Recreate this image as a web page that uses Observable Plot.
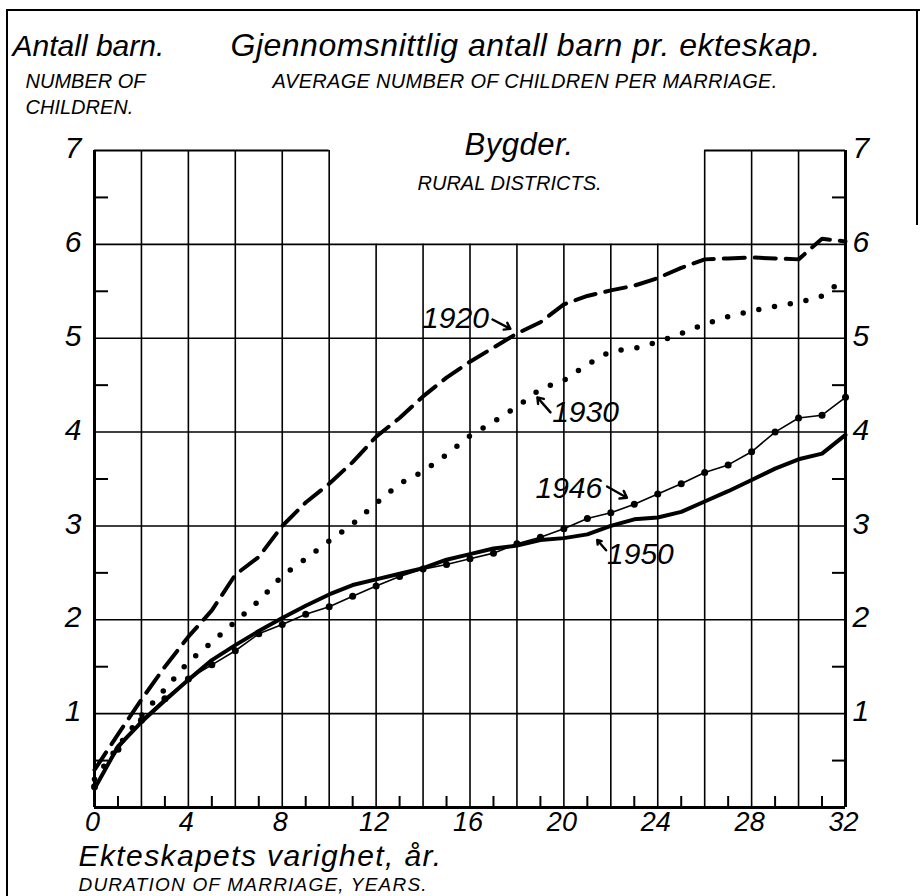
<!DOCTYPE html>
<html>
<head>
<meta charset="utf-8">
<script src="https://cdn.jsdelivr.net/npm/d3@7"></script>
<script src="https://cdn.jsdelivr.net/npm/@observablehq/plot@0.6"></script>
<style>
  html, body { margin: 0; padding: 0; background: #fff; }
  #wrap { position: relative; width: 924px; height: 896px; overflow: hidden; }
  .bl { position: absolute; left: 6px; top: 9px; width: 912px; height: 890px; border-left: 2.5px solid #000; border-top: 2.5px solid #000; }
  .br { position: absolute; left: 916px; top: 9px; width: 0; height: 216px; border-left: 2.5px solid #000; }
</style>
</head>
<body>
<div id="wrap"><div class="bl"></div><div class="br"></div></div>
<script>
// ---- data ----
const years = [0,1,2,3,4,5,6,7,8,9,10,11,12,13,14,15,16,17,18,19,20,21,22,23,24,25,26,27,28,29,30,31,32];
const v1920 = [0.40,0.78,1.15,1.50,1.82,2.10,2.48,2.67,3.00,3.25,3.45,3.68,3.95,4.15,4.38,4.58,4.75,4.90,5.05,5.17,5.36,5.45,5.51,5.56,5.64,5.75,5.84,5.85,5.86,5.85,5.84,6.06,6.03];
const v1930 = [0.30,0.65,0.98,1.26,1.55,1.76,1.98,2.20,2.47,2.65,2.84,3.02,3.24,3.45,3.58,3.76,3.96,4.11,4.27,4.46,4.55,4.72,4.86,4.89,4.96,5.05,5.15,5.23,5.29,5.34,5.38,5.45,5.64];
const v1946 = [0.22,0.62,0.93,1.16,1.37,1.52,1.67,1.85,1.95,2.06,2.14,2.25,2.36,2.46,2.54,2.59,2.65,2.71,2.81,2.88,2.97,3.08,3.14,3.23,3.34,3.45,3.57,3.65,3.79,4.00,4.15,4.18,4.37];
const v1950 = [0.20,0.65,0.91,1.14,1.36,1.57,1.73,1.88,2.02,2.15,2.27,2.37,2.43,2.49,2.55,2.64,2.70,2.76,2.79,2.85,2.87,2.91,3.00,3.07,3.09,3.15,3.26,3.37,3.49,3.61,3.71,3.77,3.97];

const seriesNames = ["1920", "1930", "1946", "1950"];
const labelX = [13.96, 19.5, 18.79, 21.84];
const labelY = [5.21, 4.21, 3.40, 2.70];
const arrowFromX = [16.96, 19.43, 21.84, 21.80];
const arrowFromY = [5.20, 4.21, 3.42, 2.74];
const arrowToX = [17.72, 18.87, 22.69, 21.42];
const arrowToY = [5.10, 4.37, 3.30, 2.85];

const xTickLabels = [0, 4, 8, 12, 16, 20, 24, 28, 32];
const yTickLabels = [1, 2, 3, 4, 5, 6, 7];
const tallGridX = [2, 4, 6, 8, 10, 26, 28, 30];
const shortGridX = [12, 14, 16, 18, 20, 22, 24];
const gridY = [1, 2, 3, 4, 5, 6];
const topGridSegments = [[0, 10], [26, 32]];
const minorX = [1, 3, 5, 7, 9, 11, 13, 15, 17, 19, 21, 23, 25, 27, 29, 31];
const minorY = [0.5, 1.5, 2.5, 3.5, 4.5, 5.5, 6.5];

const titleTexts = [
  {text: "Antall barn.", dx: -82, dy: -95, size: 30, ls: 0},
  {text: "NUMBER OF", dx: -69, dy: -63, size: 20, ls: 0},
  {text: "CHILDREN.", dx: -69, dy: -37, size: 20, ls: 0},
  {text: "Gjennomsnittlig antall barn pr. ekteskap.", dx: 136, dy: -95, size: 32, ls: 0.5},
  {text: "AVERAGE NUMBER OF CHILDREN PER MARRIAGE.", dx: 178, dy: -63, size: 20, ls: 0.3},
  {text: "Bygder.", dx: 370, dy: 4, size: 31, ls: 0.5},
  {text: "RURAL DISTRICTS.", dx: 323, dy: 39, size: 20, ls: 0},
  {text: "Ekteskapets varighet, år.", dx: -16, dy: 715, size: 30, ls: 1.4},
  {text: "DURATION OF MARRIAGE, YEARS.", dx: -16, dy: 740, size: 19, ls: 1.2}
];

// ---- build tables ----
const mk = (vals) => years.map((y, i) => ({year: y, value: vals[i]}));
const d1920 = mk(v1920), d1930 = mk(v1930), d1946 = mk(v1946), d1950 = mk(v1950);
const labels = seriesNames.map((s, i) => ({s, x: labelX[i], y: labelY[i], x1: arrowFromX[i], y1: arrowFromY[i], x2: arrowToX[i], y2: arrowToY[i]}));

const font = "'Liberation Sans', Arial, sans-serif";

const chart = Plot.plot({
  width: 924,
  height: 896,
  marginLeft: 94,
  marginRight: 79,
  marginTop: 150,
  marginBottom: 89,
  x: {domain: [0, 32], axis: null},
  y: {domain: [0, 7], axis: null},
  style: {background: "transparent", fontFamily: font, overflow: "visible", color: "#000"},
  marks: [
    // grid
    Plot.ruleX(tallGridX, {y1: 0, y2: 7, stroke: "#000", strokeWidth: 1.6}),
    Plot.ruleX(shortGridX, {y1: 0, y2: 6, stroke: "#000", strokeWidth: 1.6}),
    Plot.ruleY(gridY, {x1: 0, x2: 32, stroke: "#000", strokeWidth: 1.6}),
    Plot.ruleY(topGridSegments, {y: 7, x1: d => d[0], x2: d => d[1], stroke: "#000", strokeWidth: 1.8}),
    // minor ticks
    Plot.ruleX(minorX, {y1: 0, y2: 0, insetTop: -11, stroke: "#000", strokeWidth: 2}),
    Plot.ruleY(minorY, {x1: 0, x2: 0, insetRight: -14, stroke: "#000", strokeWidth: 2}),
    Plot.ruleY(minorY, {x1: 32, x2: 32, insetLeft: -13, stroke: "#000", strokeWidth: 2}),
    // axes
    Plot.ruleX([0, 32], {y1: 0, y2: 7, stroke: "#000", strokeWidth: 3}),
    Plot.ruleY([0], {x1: 0, x2: 32, stroke: "#000", strokeWidth: 3}),
    // series
    Plot.line(d1920, {x: "year", y: "value", stroke: "#000", strokeWidth: 4, strokeDasharray: "21 10"}),
    Plot.line(d1930, {x: "year", y: "value", stroke: "#000", strokeWidth: 5.5, strokeDasharray: "0 16", strokeLinecap: "round"}),
    Plot.line(d1950, {x: "year", y: "value", stroke: "#000", strokeWidth: 4, strokeLinejoin: "round", strokeLinecap: "round"}),
    Plot.line(d1946, {x: "year", y: "value", stroke: "#000", strokeWidth: 1.6}),
    Plot.dot(d1946, {x: "year", y: "value", r: 3.5, fill: "#000", stroke: null}),
    // series labels + arrows
    Plot.arrow(labels, {x1: "x1", y1: "y1", x2: "x2", y2: "y2", stroke: "#000", strokeWidth: 2.4, headLength: 9, headAngle: 70}),
    Plot.text(labels, {x: "x", y: "y", text: "s", textAnchor: "start", lineAnchor: "middle", fontSize: 30, fontStyle: "italic", fill: "#000"}),
    // tick labels
    Plot.text(yTickLabels, {x: 0, y: d => d, text: d => String(d), textAnchor: "end", lineAnchor: "middle", dx: -13, dy: -2, fontSize: 30, fontStyle: "italic", fill: "#000"}),
    Plot.text(yTickLabels, {x: 32, y: d => d, text: d => String(d), textAnchor: "start", lineAnchor: "middle", dx: 7, dy: -2, fontSize: 30, fontStyle: "italic", fill: "#000"}),
    Plot.text(xTickLabels, {x: d => d, y: 0, text: d => String(d), textAnchor: "middle", lineAnchor: "top", dx: -2, dy: 4, fontSize: 27, fontStyle: "italic", fill: "#000"}),
    // titles
    ...titleTexts.map(t => Plot.text([t], {frameAnchor: "top-left", text: "text", dx: t.dx, dy: t.dy, textAnchor: "start", lineAnchor: "bottom", fontSize: t.size, fontStyle: "italic", fill: "#000"}))
  ]
});
// letter spacing for the lettered titles
const spacing = new Map(titleTexts.map(t => [t.text, t.ls]));
d3.select(chart).selectAll("text").each(function () {
  const ls = spacing.get(this.textContent);
  if (ls) this.style.letterSpacing = ls + "px";
});
chart.style.position = "absolute";
chart.style.left = "0";
chart.style.top = "0";
document.getElementById("wrap").prepend(chart);
</script>
</body>
</html>
